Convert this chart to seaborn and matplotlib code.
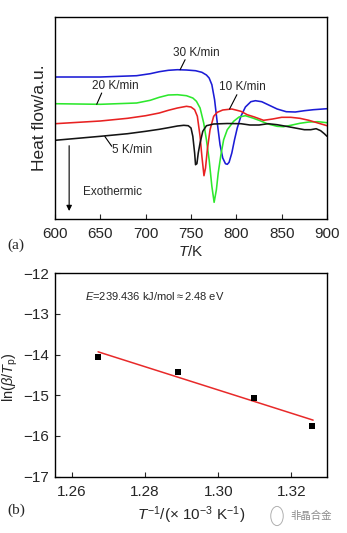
import numpy as np
import pandas as pd
import matplotlib
matplotlib.use("Agg")
import matplotlib.pyplot as plt
import seaborn as sns

# ---------------- data: panel (a) DSC curves (arbitrary heat-flow units) ----------------
T_30 = [600, 650, 690, 705, 715, 725, 735, 745, 755, 762, 767, 770, 773, 776, 779, 782, 785, 788,
        790, 792, 795, 798, 801, 805, 810, 816, 821, 828, 835, 845, 855, 865, 875, 885, 900]
H_30 = [142.0, 142.0, 143.3, 145.3, 147.3, 148.7, 149.3, 149.0, 148.3, 146.7, 144.0, 141.0, 134.3,
        119.3, 96.0, 74.3, 61.0, 55.3, 54.7, 56.7, 66.0, 79.3, 91.0, 102.7, 112.0, 117.3, 118.3,
        117.3, 114.3, 110.0, 107.3, 107.0, 108.3, 109.3, 110.3]

T_20 = [600, 650, 690, 705, 715, 725, 735, 745, 752, 756, 760, 764, 767, 770, 773, 775.5, 778, 780,
        783, 786, 790, 797, 803, 810, 818, 825, 835, 845, 852, 860, 870, 880, 890, 900]
H_20 = [115.3, 114.7, 116.0, 118.7, 121.7, 124.0, 124.3, 123.3, 121.0, 117.7, 111.0, 96.0, 79.3,
        59.3, 32.7, 16.7, 29.3, 46.0, 64.3, 79.3, 89.3, 97.7, 102.0, 103.3, 101.0, 98.7, 95.0,
        92.7, 92.3, 93.7, 95.7, 97.0, 97.3, 96.3]

T_10 = [600, 650, 680, 700, 715, 725, 735, 745, 750, 754, 757, 760, 762, 764.3, 766, 768, 771, 775,
        779, 785, 795, 805, 812, 820, 830, 840, 850, 860, 870, 880, 890, 900]
H_10 = [95.3, 98.0, 100.7, 103.3, 106.0, 108.7, 111.0, 112.7, 112.0, 109.3, 102.7, 82.7, 62.7, 43.3,
        51.0, 69.3, 89.3, 102.7, 106.7, 109.0, 110.0, 107.7, 104.3, 102.0, 98.7, 100.0, 101.7,
        101.7, 100.7, 98.7, 96.0, 93.3]

T_5 = [600, 650, 680, 700, 715, 725, 735, 742, 747, 750, 752, 754, 755, 756.5, 758, 760, 763, 767,
       775, 790, 805, 815, 825, 835, 845, 855, 865, 875, 882, 888, 893, 897, 900]
H_5 = [78.7, 82.7, 85.3, 87.7, 89.7, 91.3, 93.0, 93.7, 93.3, 91.0, 82.7, 66.0, 54.3, 55.3, 66.0,
       76.0, 87.7, 93.3, 95.0, 95.5, 95.3, 94.0, 94.0, 95.3, 94.3, 92.7, 91.0, 89.3, 89.3, 90.3,
       88.3, 85.3, 82.7]

rates = ["30 K/min", "20 K/min", "10 K/min", "5 K/min"]
rate_colors = ["#1c1cd6", "#2de82d", "#e82222", "#141414"]
xticks_a = [600, 650, 700, 750, 800, 850, 900]

# ---------------- data: panel (b) Kissinger plot ----------------
inv_T = [1.2670, 1.2891, 1.3098, 1.3258]
ln_beta_Tp = [-14.05, -14.42, -15.07, -15.75]
fit_x = [1.2671, 1.3260]
fit_y = [-13.93, -15.61]
xticks_b = [1.26, 1.28, 1.30, 1.32]
yticks_b = [-12, -13, -14, -15, -16, -17]

# ---------------- style ----------------
sns.set_style("ticks")
plt.rcParams["font.family"] = ["Liberation Sans", "DejaVu Sans"]
plt.rcParams["mathtext.fontset"] = "custom"
plt.rcParams["mathtext.rm"] = "Liberation Sans"
plt.rcParams["mathtext.it"] = "Liberation Sans:italic"
plt.rcParams["mathtext.bf"] = "Liberation Sans:bold"
plt.rcParams["axes.linewidth"] = 1.0
plt.rcParams["axes.edgecolor"] = "black"

fig = plt.figure(figsize=(3.47, 5.33), dpi=100)
ax1 = fig.add_axes([0.1585, 0.5891, 0.7839, 0.379])
ax2 = fig.add_axes([0.1585, 0.1057, 0.7839, 0.3815])

# ---------------- panel (a) ----------------
frames = []
for name, T, H in zip(rates, [T_30, T_20, T_10, T_5], [H_30, H_20, H_10, H_5]):
    frames.append(pd.DataFrame({"T": T, "H": H, "rate": name}))
df_a = pd.concat(frames, ignore_index=True)
sns.lineplot(data=df_a, x="T", y="H", hue="rate", palette=dict(zip(rates, rate_colors)),
             sort=False, estimator=None, linewidth=1.15, legend=False, ax=ax1)

ax1.set_xlim(600, 900)
ax1.set_ylim(0, 202)
ax1.set_xticks(xticks_a)
ax1.set_yticks([])
ax1.tick_params(axis="x", direction="in", length=3.5, width=0.8, pad=6, labelsize=11)
ax1.set_xlabel(r"$T$/K", fontsize=11)
ax1.xaxis.set_label_coords(0.5, -0.125)
ax1.set_ylabel("Heat flow/a.u.", fontsize=12.5)
ax1.yaxis.set_label_coords(-0.03, 0.5)
for s in ax1.spines.values():
    s.set_visible(True)
    s.set_linewidth(1.0)

lead = dict(arrowstyle="-", lw=0.8, color="black", shrinkA=0, shrinkB=0)
ax1.text(756, 166, "30 K/min", fontsize=8.5, ha="center", va="center")
ax1.annotate("", xy=(738, 149.3), xytext=(743.5, 159.3), arrowprops=lead)
ax1.text(667, 133, "20 K/min", fontsize=8.5, ha="center", va="center")
ax1.annotate("", xy=(646, 114.7), xytext=(651.5, 126), arrowprops=lead)
ax1.text(807, 132, "10 K/min", fontsize=8.5, ha="center", va="center")
ax1.annotate("", xy=(792.5, 110.0), xytext=(800.6, 124.3), arrowprops=lead)
ax1.text(685, 69, "5 K/min", fontsize=8.5, ha="center", va="center")
ax1.annotate("", xy=(655, 82.5), xytext=(662.6, 72.7), arrowprops=lead)
ax1.text(631, 27, "Exothermic", fontsize=8.5, ha="left", va="center")
ax1.annotate("", xy=(615.6, 8), xytext=(615.6, 73.3),
             arrowprops=dict(arrowstyle="-|>", lw=0.8, color="black", mutation_scale=8,
                             shrinkA=0, shrinkB=0))

# ---------------- panel (b) ----------------
df_b = pd.DataFrame({"x": inv_T, "y": ln_beta_Tp})
df_fit = pd.DataFrame({"x": fit_x, "y": fit_y})
sns.lineplot(data=df_fit, x="x", y="y", color="#e82a2a", linewidth=1.1, ax=ax2)
sns.scatterplot(data=df_b, x="x", y="y", marker="s", color="black", s=16,
                edgecolor="black", linewidth=0, ax=ax2, zorder=3)

ax2.set_xlim(1.2553, 1.3298)
ax2.set_ylim(-17, -12)
ax2.set_xticks(xticks_b)
ax2.set_xticklabels([f"{v:.2f}" for v in xticks_b])
ax2.set_yticks(yticks_b)
ax2.tick_params(axis="both", direction="in", length=3.5, width=0.8, labelsize=11)
ax2.tick_params(axis="x", pad=6)
ax2.tick_params(axis="y", pad=4)
ax2.set_xlabel(r"$T^{-1}$/($\times$ 10$^{-3}$ K$^{-1}$)", fontsize=11)
ax2.xaxis.set_label_coords(0.5, -0.135)
ax2.set_ylabel(r"ln($\beta$/$T_{\rm p}$)", fontsize=10.5)
ax2.yaxis.set_label_coords(-0.13, 0.49)
for s in ax2.spines.values():
    s.set_visible(True)
    s.set_linewidth(1.0)
ax2.text(0.11, 0.887, r"$E$=239.436 kJ/mol$\approx$2.48 eV", transform=ax2.transAxes,
         fontsize=8.0, ha="left", va="center")

# panel labels
fig.text(7 / 347, 1 - 245 / 533, "(a)", fontsize=11, family="Liberation Serif",
         ha="left", va="center")
fig.text(7 / 347, 1 - 510 / 533, "(b)", fontsize=11, family="Liberation Serif",
         ha="left", va="center")

# watermark
fig.text(290 / 347, 1 - 516 / 533, "非晶合金", fontsize=7.5, color="#8a8a8a",
         family=["Noto Sans CJK SC", "DejaVu Sans"], ha="left", va="center")
fig.patches.append(matplotlib.patches.Circle((277 / 347, 1 - 516 / 533), 0.018,
                                             transform=fig.transFigure, fill=False,
                                             edgecolor="#b0b0b0", linewidth=0.7))

fig.savefig("out.png", dpi=100)
